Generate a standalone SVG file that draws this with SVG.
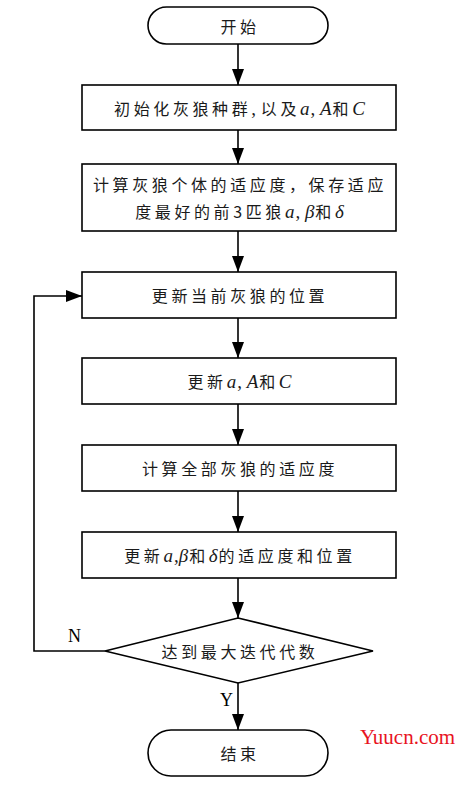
<svg xmlns="http://www.w3.org/2000/svg" width="469" height="792" viewBox="0 0 469 792">
<style>
.shape{fill:#fff;stroke:#000;stroke-width:1.6}
.conn{fill:none;stroke:#000;stroke-width:1.6}
.cjk{font-family:"Noto Sans CJK SC","Noto Sans",sans-serif;font-size:16px;letter-spacing:3.6px;fill:#1a1a1a;text-anchor:middle;dominant-baseline:central}
.m{font-family:"Liberation Serif",serif;font-style:italic;font-size:19px;letter-spacing:1px}
.p{font-family:"Liberation Serif",serif;font-size:19px;letter-spacing:0}
.lbl{font-family:"Liberation Serif",serif;font-size:18px;fill:#000}
</style>
<defs>
<marker id="ah" viewBox="0 0 16 12" refX="16" refY="6" markerWidth="16" markerHeight="12" markerUnits="userSpaceOnUse" orient="auto">
<path d="M0,0 L16,6 L0,12 Z" fill="#000"/>
</marker>
</defs>
<rect width="469" height="792" fill="#fff"/>
<g id="connectors">
<line class="conn" x1="238" y1="44" x2="238" y2="85" marker-end="url(#ah)"/>
<line class="conn" x1="238" y1="130" x2="238" y2="164" marker-end="url(#ah)"/>
<line class="conn" x1="238" y1="231" x2="238" y2="272" marker-end="url(#ah)"/>
<line class="conn" x1="238" y1="318" x2="238" y2="358" marker-end="url(#ah)"/>
<line class="conn" x1="238" y1="404" x2="238" y2="445" marker-end="url(#ah)"/>
<line class="conn" x1="238" y1="491" x2="238" y2="532" marker-end="url(#ah)"/>
<line class="conn" x1="238" y1="578" x2="238" y2="618" marker-end="url(#ah)"/>
<line class="conn" x1="238" y1="683" x2="238" y2="730" marker-end="url(#ah)"/>
<polyline class="conn" points="105,651 34,651 34,296 82,296" marker-end="url(#ah)"/>
<text class="lbl" x="68" y="642">N</text>
<text class="lbl" x="220" y="706">Y</text>
</g>
<g id="start">
<rect class="shape" x="148" y="7" width="180" height="37" rx="18.5"/>
<text class="cjk" x="240" y="25.5">开始</text>
</g>
<g id="init">
<rect class="shape" x="82" y="85" width="314" height="45"/>
<text class="cjk" x="240" y="107.5">初始化灰狼种群<tspan class="p">, </tspan>以及<tspan class="m">a</tspan><tspan class="p">, </tspan><tspan class="m">A</tspan>和<tspan class="m">C</tspan></text>
</g>
<g id="fitness">
<rect class="shape" x="82" y="164" width="314" height="67"/>
<text class="cjk" x="240" y="184">计算灰狼个体的适应度，保存适应</text>
<text class="cjk" x="240" y="211">度最好的前3匹狼<tspan class="m">a</tspan><tspan class="p">, </tspan><tspan class="m">β</tspan>和<tspan class="m">δ</tspan></text>
</g>
<g id="updatepos">
<rect class="shape" x="82" y="272" width="314" height="46"/>
<text class="cjk" x="240" y="295">更新当前灰狼的位置</text>
</g>
<g id="updateaAC">
<rect class="shape" x="82" y="358" width="314" height="46"/>
<text class="cjk" x="240" y="381">更新<tspan class="m">a</tspan><tspan class="p">, </tspan><tspan class="m">A</tspan>和<tspan class="m">C</tspan></text>
</g>
<g id="calcall">
<rect class="shape" x="82" y="445" width="314" height="46"/>
<text class="cjk" x="240" y="468">计算全部灰狼的适应度</text>
</g>
<g id="updatebest">
<rect class="shape" x="82" y="532" width="314" height="46"/>
<text class="cjk" x="240" y="555">更新<tspan class="m">a</tspan><tspan class="p">,</tspan><tspan class="m">β</tspan>和<tspan class="m">δ</tspan>的适应度和位置</text>
</g>
<g id="decision">
<polygon class="shape" points="238,618 373,651 238,683 105,651"/>
<text class="cjk" x="240" y="651">达到最大迭代代数</text>
</g>
<g id="end">
<rect class="shape" x="148" y="730" width="180" height="46" rx="23"/>
<text class="cjk" x="240" y="753">结束</text>
</g>
<text x="360" y="744" font-family="Liberation Serif, serif" font-size="21" fill="#e8141e">Yuucn.com</text>
</svg>
